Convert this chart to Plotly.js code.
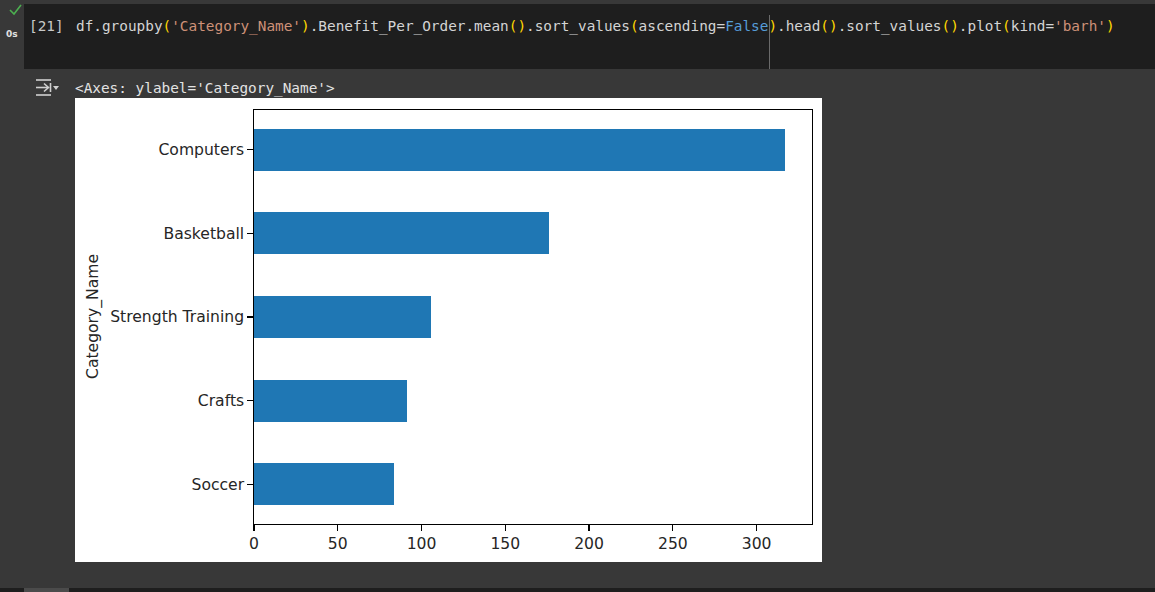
<!DOCTYPE html>
<html>
<head>
<meta charset="utf-8">
<script src="https://cdn.plot.ly/plotly-3.0.1.min.js"></script>
<style>
  html, body { margin:0; padding:0; width:1155px; height:592px; background:#383838; overflow:hidden; }
  .abs { position:absolute; }
  .mono { font-family:"DejaVu Sans Mono", monospace; font-size:14.38px; line-height:18px; white-space:pre; }
  .g { color:#ffd700; } .s { color:#ce9178; } .k { color:#569cd6; } .t { color:#d4d4d4; }
</style>
</head>
<body>
<div class="abs" style="left:24px;top:4px;width:1131px;height:65px;background:#1e1e1e;"></div>
<div class="abs" style="left:769px;top:15px;width:1px;height:54px;background:#6a6a6a;"></div>
<svg class="abs" style="left:8px;top:3px;" width="16" height="14"><path d="M2 7 L6 11 L13 2" stroke="#4caf50" stroke-width="1.6" fill="none"/></svg>
<div class="abs" style="left:6px;top:29px;font-family:'DejaVu Sans';font-size:9px;font-weight:bold;color:#e0e0e0;">0s</div>
<div class="abs mono" style="left:29px;top:17px;color:#c8c8c8;">[21]</div>
<div class="abs mono t" style="left:76px;top:17px;">df.groupby<span class="g">(</span><span class="s">'Category_Name'</span><span class="g">)</span>.Benefit_Per_Order.mean<span class="g">()</span>.sort_values<span class="g">(</span>ascending=<span class="k">False</span><span class="g">)</span>.head<span class="g">()</span>.sort_values<span class="g">()</span>.plot<span class="g">(</span>kind=<span class="s">'barh'</span><span class="g">)</span></div>
<svg class="abs" style="left:35px;top:78px;" width="26" height="20">
  <line x1="1" y1="2" x2="16" y2="2" stroke="#d0d0d0" stroke-width="1.6"/>
  <line x1="1" y1="17" x2="16" y2="17" stroke="#d0d0d0" stroke-width="1.6"/>
  <line x1="1" y1="9.5" x2="13" y2="9.5" stroke="#d0d0d0" stroke-width="1.6"/>
  <path d="M9 5.5 L13.5 9.5 L9 13.5" stroke="#d0d0d0" stroke-width="1.6" fill="none"/>
  <line x1="15.5" y1="5" x2="15.5" y2="14" stroke="#d0d0d0" stroke-width="1.6"/>
  <path d="M18 8 L24 8 L21 12 Z" fill="#d0d0d0"/>
</svg>
<div class="abs mono" style="left:75px;top:79px;color:#e3e3e3;">&lt;Axes: ylabel='Category_Name'&gt;</div>
<div class="abs" style="left:0;top:588px;width:1155px;height:4px;background:#1e1e1e;"></div>
<div class="abs" style="left:24px;top:588px;width:45px;height:4px;background:#4b4b4b;"></div>
<div id="chart" class="abs" style="left:75px;top:98px;width:747px;height:464px;"></div>
<script>
const categories = ["Soccer", "Crafts", "Strength Training", "Basketball", "Computers"];
const benefitPerOrder = [83.3, 91.2, 105.4, 176.1, 317.2];
const xTicks = [0, 50, 100, 150, 200, 250, 300];
const yLabel = "Category_Name";

const data = [{
  type: "bar",
  orientation: "h",
  y: categories,
  x: benefitPerOrder,
  width: 0.5,
  marker: { color: "#1f77b4", line: { width: 0 } },
  hoverinfo: "x+y"
}];

const axisFont = { family: "DejaVu Sans", size: 15.6, color: "#262626" };
const layout = {
  width: 747, height: 464,
  margin: { l: 179, r: 10, t: 12, b: 38, pad: 0 },
  paper_bgcolor: "#ffffff",
  plot_bgcolor: "#ffffff",
  showlegend: false,
  bargap: 0,
  xaxis: {
    range: [0, 1.05 * Math.max(...benefitPerOrder)],
    tickvals: xTicks,
    ticktext: xTicks.map(String),
    ticks: "outside", ticklen: 5.5, tickwidth: 1.25, tickcolor: "#000",
    ticklabelstandoff: 1.5,
    showline: true, linecolor: "#000", linewidth: 1.25, mirror: true,
    showgrid: false, zeroline: false,
    tickfont: axisFont, fixedrange: true
  },
  yaxis: {
    type: "category",
    categoryorder: "array", categoryarray: categories,
    range: [-0.475, categories.length - 1 + 0.475],
    ticks: "outside", ticklen: 5.5, tickwidth: 1.25, tickcolor: "#000",
    ticklabelstandoff: 2.5,
    showline: true, linecolor: "#000", linewidth: 1.25, mirror: true,
    showgrid: false, zeroline: false,
    tickfont: axisFont, fixedrange: true
  },
  annotations: [{
    text: yLabel, xref: "paper", yref: "paper",
    x: (18 - 179) / 558, y: 0.5, xanchor: "center", yanchor: "middle",
    textangle: -90, showarrow: false, font: axisFont
  }]
};

Plotly.newPlot("chart", data, layout, { displayModeBar: false, staticPlot: true });
</script>
</body>
</html>
